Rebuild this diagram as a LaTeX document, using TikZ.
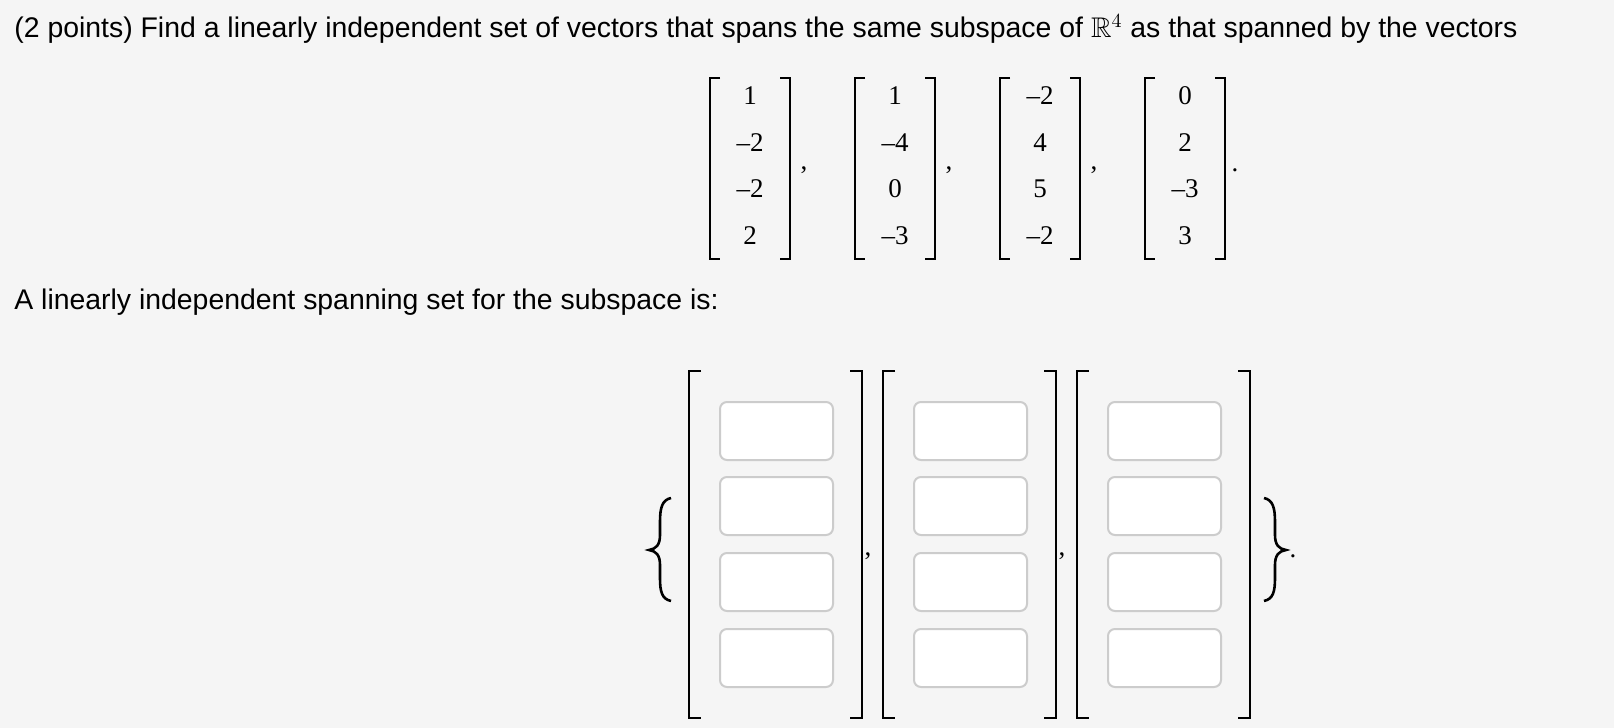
\documentclass[tikz,border=0pt]{standalone}
\usepackage{amssymb}
\usepackage{fontspec}
\setmainfont{Liberation Sans}
\newfontfamily\numfont{Liberation Serif}
\begin{document}
\begin{tikzpicture}[x=0.5pt,y=-0.5pt,
  brk/.style={line width=1.3pt,black},
  num/.style={font=\numfont\fontsize{13.5}{13.5}\selectfont,anchor=center,inner sep=0},
  txt/.style={font=\fontsize{14.2}{16}\selectfont,anchor=west,inner sep=0},
  ibox/.style={draw=black!20,fill=white,rounded corners=3.5pt,line width=1pt}]
\fill[white!96!black] (0,0) rectangle (1614,728);
\useasboundingbox (0,0) rectangle (1614,728);
\node[txt] (title) at (14,29) {(2 points) Find a linearly independent set of vectors that spans the same subspace of $\mathbb{R}^4$ as that spanned by the vectors};
\node[txt] (label) at (14,302) {A linearly independent spanning set for the subspace is:};
% top matrices
\foreach \L/\a/\b/\c/\d [count=\i] in {710/1/–2/–2/2, 855/1/–4/0/–3, 1000/–2/4/5/–2, 1145/0/2/–3/3}{
  \draw[brk] (\L+10,78) -- (\L,78) -- (\L,259) -- (\L+10,259);
  \draw[brk] (\L+70,78) -- (\L+80,78) -- (\L+80,259) -- (\L+70,259);
  \node[num] (v\i a) at (\L+40,96) {\a};
  \node[num] (v\i b) at (\L+40,143) {\b};
  \node[num] (v\i c) at (\L+40,189) {\c};
  \node[num] (v\i d) at (\L+40,236) {\d};
}
\node[num] (c1) at (804,170) {,};
\node[num] (c2) at (949,170) {,};
\node[num] (c3) at (1094,170) {,};
\node[num] (p1) at (1235,170) {.};
% bottom braces
\draw[brk] (671,498) .. controls (662,500) and (660,508) .. (660,522) -- (660,535)
  .. controls (660,545) and (656,549) .. (649,550)
  .. controls (656,551) and (660,555) .. (660,565) -- (660,578)
  .. controls (660,592) and (662,599) .. (671,601);
\draw[brk] (1264,498) .. controls (1273,500) and (1275,508) .. (1275,522) -- (1275,535)
  .. controls (1275,545) and (1279,549) .. (1286,550)
  .. controls (1279,551) and (1275,555) .. (1275,565) -- (1275,578)
  .. controls (1275,592) and (1273,599) .. (1264,601);
\foreach \L [count=\i] in {689,883,1077}{
  \draw[brk] (\L+12,371) -- (\L,371) -- (\L,718) -- (\L+12,718);
  \draw[brk] (\L+161,371) -- (\L+173,371) -- (\L+173,718) -- (\L+161,718);
  \foreach \y [count=\j] in {402,477,553,629}{
    \draw[ibox] (\L+31,\y) rectangle (\L+144,\y+58);
  }
}
\node[num] (c4) at (868,556) {,};
\node[num] (c5) at (1062,556) {,};
\node[num] (p2) at (1293,556) {.};
\end{tikzpicture}
\end{document}
